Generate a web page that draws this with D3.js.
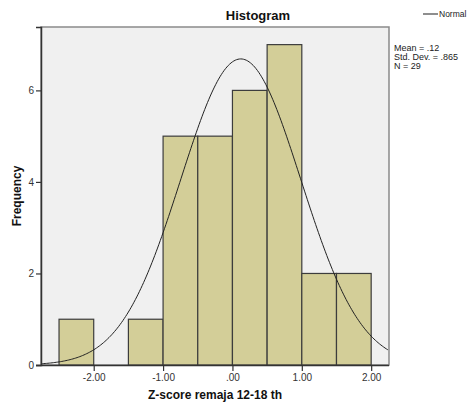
<!DOCTYPE html>
<html>
<head>
<meta charset="utf-8">
<script src="https://cdn.jsdelivr.net/npm/d3@7"></script>
<style>
  body { margin: 0; background: #fff; }
  text { font-family: "Liberation Sans", Arial, sans-serif; }
</style>
</head>
<body>
<svg id="chart" width="470" height="407"></svg>
<script>
// bins of the histogram (lower edge, upper edge, count)
const binStarts = [-2.5, -2.0, -1.5, -1.0, -0.5, 0.0, 0.5, 1.0, 1.5];
const binWidth = 0.5;
const counts = [1, 0, 1, 5, 5, 6, 7, 2, 2];
const xTicks = [-2, -1, 0, 1, 2];
const xTickLabels = ["-2.00", "-1.00", ".00", "1.00", "2.00"];
const yTicks = [0, 2, 4, 6];
const mean = 0.12, sd = 0.865, n = 29;
const statLines = ["Mean = .12", "Std. Dev. = .865", "N = 29"];

const svg = d3.select("#chart");
const margin = {top: 27, right: 81, bottom: 42, left: 41};
const width = +svg.attr("width"), height = +svg.attr("height");
const innerW = width - margin.left - margin.right;
const innerH = height - margin.top - margin.bottom;

const x = d3.scaleLinear().domain([-2.76, 2.257]).range([0, innerW]);
const y = d3.scaleLinear().domain([0, 7.385]).range([innerH, 0]);

const g = svg.append("g").attr("transform", `translate(${margin.left},${margin.top})`);

// plot background + frame
g.append("rect")
  .attr("width", innerW).attr("height", innerH)
  .attr("fill", "#f0f0f0")
  .attr("stroke", "#8a8a8a").attr("stroke-width", 1.5);

// bars
const bins = binStarts.map((s, i) => ({x0: s, x1: s + binWidth, c: counts[i]})).filter(d => d.c > 0);
g.selectAll("rect.bar")
  .data(bins)
  .enter().append("rect")
    .attr("class", "bar")
    .attr("x", d => x(d.x0))
    .attr("y", d => y(d.c))
    .attr("width", d => x(d.x1) - x(d.x0))
    .attr("height", d => y(0) - y(d.c))
    .attr("fill", "#d3ce98")
    .attr("stroke", "#3c3c3c")
    .attr("stroke-width", 1.2);

// normal curve
const pdf = v => n * binWidth / (sd * Math.sqrt(2 * Math.PI)) * Math.exp(-0.5 * ((v - mean) / sd) ** 2);
const curveXs = d3.range(x.domain()[0], x.domain()[1] + 0.001, 0.02);
g.append("path")
  .datum(curveXs)
  .attr("fill", "none")
  .attr("stroke", "#222")
  .attr("stroke-width", 1)
  .attr("d", d3.line().x(d => x(d)).y(d => y(pdf(d))));

// axes
const xAxis = g.append("g")
  .attr("transform", `translate(0,${innerH})`)
  .call(d3.axisBottom(x).tickValues(xTicks).tickFormat((d, i) => xTickLabels[i]).tickSizeOuter(0).tickSize(6).tickPadding(3));
const yAxis = g.append("g")
  .call(d3.axisLeft(y).tickValues(yTicks).tickSizeOuter(0).tickSize(5).tickPadding(2));
[xAxis, yAxis].forEach(a => {
  a.select(".domain").attr("stroke", "#333").attr("stroke-width", 1.5);
  a.selectAll(".tick line").attr("stroke", "#333").attr("stroke-width", 1.2);
  a.selectAll("text").attr("fill", "#333").style("font-size", "10px").style("font-family", "'Liberation Sans', Arial, sans-serif");
});
// x-axis line extends left to the y tick of 0
xAxis.select(".domain").attr("d", `M-5,0.5H${innerW}`);

// titles
svg.append("text")
  .attr("x", 258).attr("y", 20)
  .attr("text-anchor", "middle")
  .style("font-size", "13px").style("font-weight", "bold")
  .attr("fill", "#111")
  .text("Histogram");
svg.append("text")
  .attr("x", margin.left + innerW / 2).attr("y", 399)
  .attr("text-anchor", "middle")
  .style("font-size", "12px").style("font-weight", "bold")
  .attr("fill", "#111")
  .text("Z-score remaja 12-18 th");
svg.append("text")
  .attr("transform", `translate(21,${margin.top + innerH / 2}) rotate(-90)`)
  .attr("text-anchor", "middle")
  .style("font-size", "12px").style("font-weight", "bold")
  .attr("fill", "#111")
  .text("Frequency");

// legend
svg.append("line")
  .attr("x1", 423).attr("x2", 438).attr("y1", 14).attr("y2", 14)
  .attr("stroke", "#444").attr("stroke-width", 1.2);
svg.append("text")
  .attr("x", 439).attr("y", 17)
  .style("font-size", "8.5px").attr("fill", "#222")
  .text("Normal");

// stats
svg.selectAll("text.stat")
  .data(statLines)
  .enter().append("text")
    .attr("class", "stat")
    .attr("x", 394).attr("y", (d, i) => 51 + i * 9)
    .style("font-size", "9px").attr("fill", "#222")
    .text(d => d);
</script>
</body>
</html>
